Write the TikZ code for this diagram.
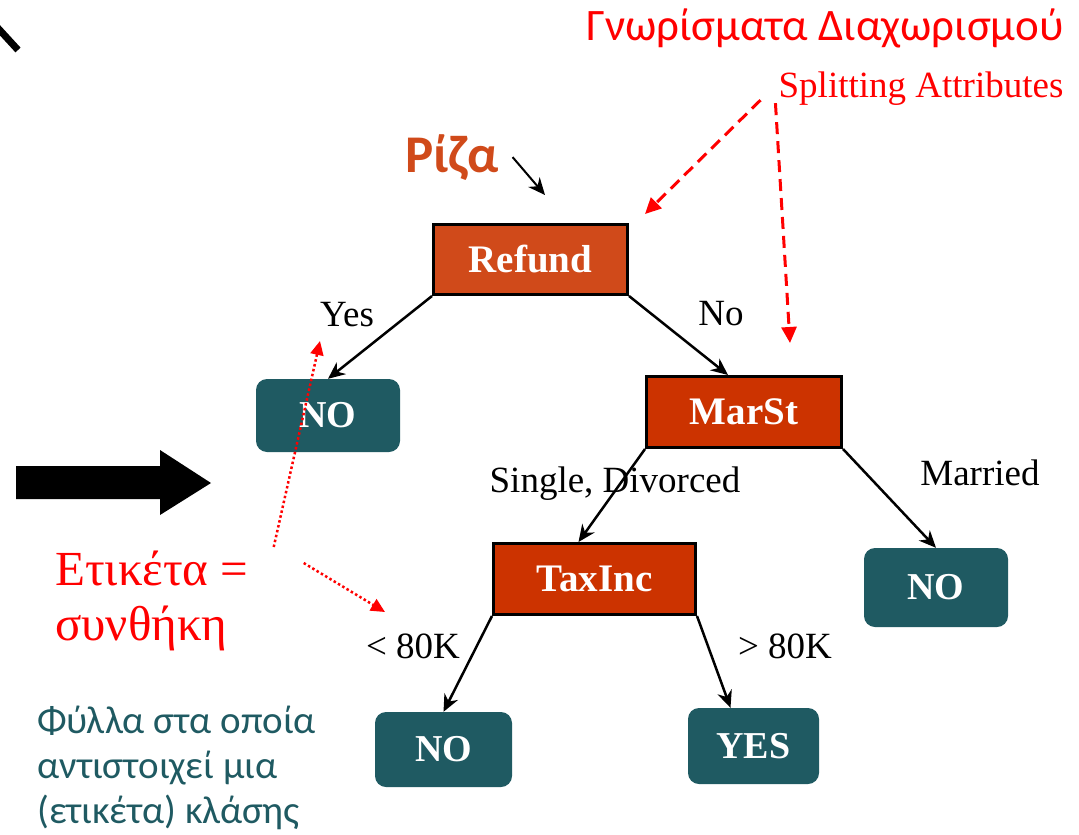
\documentclass[tikz,border=0pt]{standalone}
\usepackage{fontspec}
\setmainfont{Liberation Serif}
\newfontfamily\grsans{Carlito}
\usepackage{xcolor}
\definecolor{cRoot}{HTML}{D04A1A}
\definecolor{cSplit}{HTML}{CC3300}
\definecolor{cLeaf}{HTML}{1F5A62}
\definecolor{cNote}{HTML}{FF0000}
\usepackage{tikz}
\usetikzlibrary{positioning,arrows.meta}
\tikzset{
  node-split/.style={draw=black,line width=3pt,fill=cSplit,text=white,
    minimum width=195pt,minimum height=71pt,inner sep=0pt,
    font=\fontsize{39}{44}\selectfont\bfseries},
  node-root/.style={node-split,fill=cRoot,minimum width=194pt,minimum height=70pt},
  node-leaf/.style={fill=cLeaf,rounded corners=11pt,text=white,
    minimum width=144pt,minimum height=73pt,inner sep=0pt,
    font=\fontsize{38}{42}\selectfont\bfseries},
  edge-lbl/.style={anchor=base,inner sep=0pt,font=\fontsize{37}{42}\selectfont},
  % red notes around the tree
  note-lbl/.style={inner sep=0pt,text=cNote},
  arrow/.style={-{Stealth[length=17pt,width=15pt]},line width=2.5pt},
  arrow-hint/.style={-{Triangle[length=16pt,width=15pt]},line width=3pt,draw=cNote,
    dash pattern=on 12pt off 7pt},
  arrow-note/.style={-{Triangle[length=14pt,width=13pt]},line width=2.5pt,draw=cNote,
    dash pattern=on 2.5pt off 2.5pt},
}

\begin{document}
\begin{tikzpicture}[x=1pt,y=-1pt]
  \useasboundingbox (0,0) rectangle (1079,835);
  \begin{scope}
    \clip (0,0) rectangle (1079,835);
    \draw[line width=7pt] (-4,26) -- (18,50);
  \end{scope}
  \fill (16,466) -- (160,466) -- (160,450) -- (211,483) -- (160,515)
    -- (160,499) -- (16,499) -- cycle;

  \node[node-root]  (refund) at (530.5,259.5) {Refund};
  \node[node-split] (marst)  at (744,412)     {MarSt};
  \node[node-split,minimum width=202pt] (taxinc) at (594.5,579) {TaxInc};
  \node[node-leaf] (no-yes)     at (328,415.5) {NO};
  \node[node-leaf,minimum height=79pt] (no-married) at (936,587.5) {NO};
  \node[node-leaf,minimum width=137pt,minimum height=75pt] (no-low) at (443.5,749.5) {NO};
  \node[node-leaf,minimum width=131pt,minimum height=76pt] (yes-high) at (753.5,746) {YES};

  \draw[arrow] (refund.south west) -- (no-yes.north);
  \draw[arrow] (refund.south east) -- ([shift={(-16,0)}]marst.north);
  \draw[arrow] (marst.south west) -- ([shift={(-16,0)}]taxinc.north);
  \draw[arrow] (marst.south east) -- (no-married.north);
  \draw[arrow] (taxinc.south west) -- (no-low.north);
  \draw[arrow] (taxinc.south east) -- ([shift={(-23,0)}]yes-high.north);

  \node[edge-lbl] (lbl-yes)     at (347,326) {Yes};
  \node[edge-lbl] (lbl-no)      at (721,325) {No};
  \node[edge-lbl] (lbl-single)  at (615,492) {Single, Divorced};
  \node[edge-lbl] (lbl-married) at (980,485) {Married};
  \node[edge-lbl] (lbl-low)     at (413,658) {< 80K};
  \node[edge-lbl] (lbl-high)    at (785,658) {> 80K};

  \node[note-lbl,anchor=base,font=\grsans\fontsize{45}{52}\selectfont] (split-gr)
    at (825,40) {Γνωρίσματα Διαχωρισμού};
  \node[note-lbl,anchor=base,font=\fontsize{37}{42}\selectfont] (split-en)
    at (921,97) {Splitting Attributes};
  \node[inner sep=0pt,anchor=base,text=cRoot,font=\grsans\bfseries\fontsize{53}{60}\selectfont]
    (riza) at (452,172) {Ρίζα};
  \node[note-lbl,anchor=north west,align=left,font=\fontsize{49}{55}\selectfont]
    (etiketa) at (55,551) {Ετικέτα =\\συνθήκη};
  \node[inner sep=0pt,anchor=north west,align=left,text=cLeaf,
    font=\grsans\fontsize{39}{45}\selectfont] (leaves) at (37,706)
    {Φύλλα στα οποία\\αντιστοιχεί μια\\(ετικέτα) κλάσης};

  \coordinate (riza-tip) at (545,195);
  \coordinate (hint-refund) at (645,214);
  \coordinate (hint-marst) at (790,343);
  \coordinate (note-yes) at (320,341);
  \coordinate (note-low) at (385,612);
  \draw[-{Stealth[length=17pt,width=15pt]},line width=2pt]
    ([shift={(14,0)}]riza.east) -- (riza-tip);
  \draw[arrow-hint] ([shift={(-18,-5)}]split-en.south west) -- (hint-refund);
  \draw[arrow-hint] ([shift={(-3,-2)}]split-en.south west) -- (hint-marst);
  \draw[arrow-note] ([shift={(25,-4)}]etiketa.north east) -- (note-yes);
  \draw[arrow-note] ([shift={(55,12)}]etiketa.north east) -- (note-low);
\end{tikzpicture}
\end{document}
